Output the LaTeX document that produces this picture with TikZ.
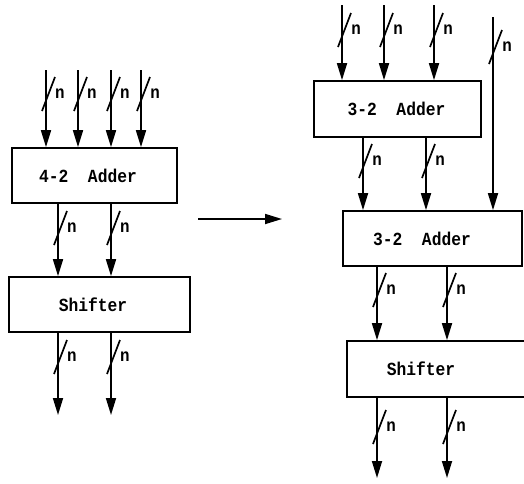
\documentclass[tikz,border=0pt]{standalone}
\usepackage{fontspec}
\setmonofont[FakeStretch=0.88]{Liberation Mono}
\usetikzlibrary{arrows.meta}
\tikzset{
  x=1pt, y=-1pt,
  wire/.style={line width=1.7pt, -{Triangle[length=17pt,width=10pt]}},
  blockbox/.style={draw, line width=1.7pt, rectangle, inner sep=0pt},
  blocklabel/.style={font=\ttfamily\bfseries\fontsize{18.5}{20}\selectfont, inner sep=0pt},
  nlabel/.style={font=\ttfamily\bfseries\fontsize{18}{20}\selectfont, inner sep=0pt},
  bus/.pic={
    \draw[line width=1.7pt] (-4,17) -- (9,-17);
    \node[nlabel] at (14,0) {n};
  }
}
\begin{document}
\begin{tikzpicture}
\useasboundingbox (0,0) rectangle (524,483);

% ---- left: 4-2 adder followed by a shifter ----
\node[blockbox, minimum width=165pt, minimum height=55pt] (addL) at (94.5,175.5) {};
\node[blocklabel] (addLtxt) at (88,175.5) {4-2\ \ Adder};
\node[blockbox, minimum width=181pt, minimum height=55pt] (shL) at (99.5,304.5) {};
\node[blocklabel] (shLtxt) at (93,304.5) {Shifter};

\foreach \x [count=\i] in {46,78,111,141} {
  \coordinate (inL\i) at (\x,70);
  \draw[wire] (inL\i) -- (inL\i |- addL.north);
  \pic at (\x,94) {bus};
}
\foreach \x [count=\i] in {58,111} {
  \coordinate (mL\i) at (\x,0);
  \draw[wire] (mL\i |- addL.south) -- (mL\i |- shL.north);
  \pic at (\x,228) {bus};
  \coordinate (outL\i) at (\x,415);
  \draw[wire] (mL\i |- shL.south) -- (outL\i);
  \pic at (\x,357) {bus};
}

% ---- transformation arrow ----
\coordinate (arrS) at (198,219);
\coordinate (arrE) at (282,219);
\draw[wire] (arrS) -- (arrE);

% ---- right: two 3-2 adders followed by a shifter ----
\node[blockbox, minimum width=167pt, minimum height=56pt] (addA) at (397.5,109) {};
\node[blocklabel] (addAtxt) at (396.5,109) {3-2\ \ Adder};
\node[blockbox, minimum width=179pt, minimum height=55pt] (addB) at (432.5,238.5) {};
\node[blocklabel] (addBtxt) at (422,238.5) {3-2\ \ Adder};
\node[blockbox, minimum width=178pt, minimum height=56pt] (shR) at (436,369) {};
\node[blocklabel] (shRtxt) at (421,369) {Shifter};

\foreach \x [count=\i] in {342,384,434} {
  \coordinate (inR\i) at (\x,5);
  \draw[wire] (inR\i) -- (inR\i |- addA.north);
  \pic at (\x,30) {bus};
}
\coordinate (inR4) at (493,17);
\draw[wire] (inR4) -- (inR4 |- addB.north);
\pic at (493,47) {bus};

\foreach \x [count=\i] in {363,426} {
  \coordinate (mA\i) at (\x,0);
  \draw[wire] (mA\i |- addA.south) -- (mA\i |- addB.north);
  \pic at (\x,161) {bus};
}
\foreach \x [count=\i] in {377,447} {
  \coordinate (mB\i) at (\x,0);
  \draw[wire] (mB\i |- addB.south) -- (mB\i |- shR.north);
  \pic at (\x,290) {bus};
  \coordinate (outR\i) at (\x,478);
  \draw[wire] (mB\i |- shR.south) -- (outR\i);
  \pic at (\x,427) {bus};
}
\end{tikzpicture}
\end{document}
